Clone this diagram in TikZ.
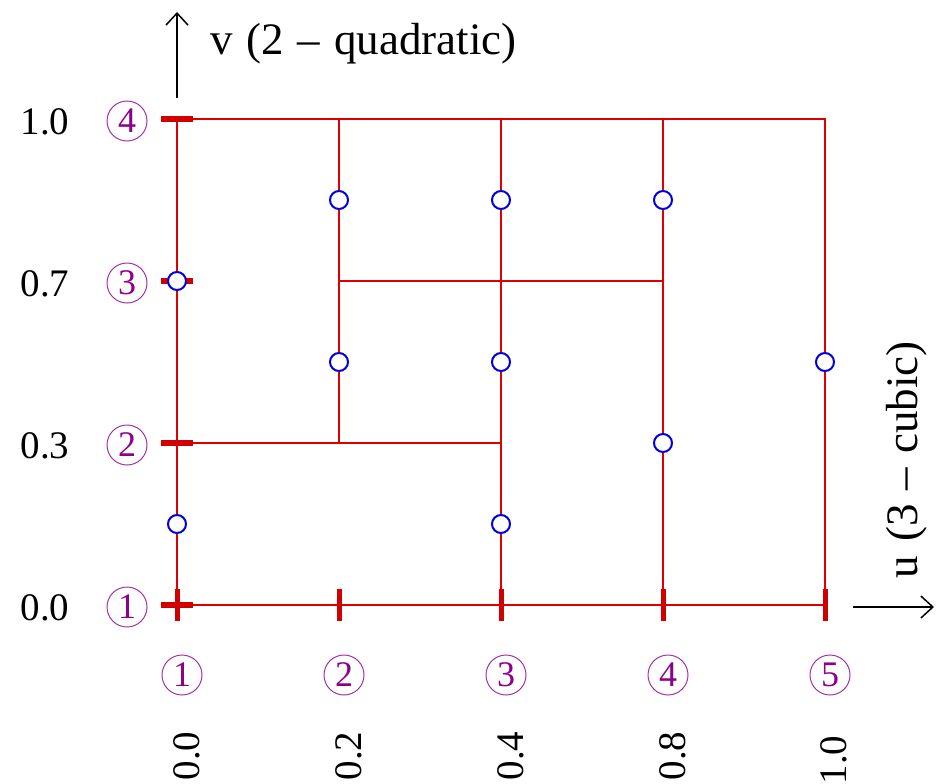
\documentclass[tikz,border=0pt]{standalone}
\usepackage{fontspec}
\setmainfont{Liberation Serif}
\usetikzlibrary{arrows.meta}
\definecolor{gridred}{RGB}{222,0,0}
\definecolor{tickred}{RGB}{208,0,0}
\definecolor{knotpurple}{RGB}{140,0,140}
\definecolor{ptblue}{RGB}{0,0,225}
\tikzset{
  knotnum/.style={circle,draw=knotpurple!80,line width=1pt,text=knotpurple,inner sep=0pt,minimum size=40pt,font=\fontsize{36}{40}\selectfont},
  ptmark/.style={circle,draw=ptblue,fill=white,line width=2pt,inner sep=0pt,minimum size=18pt},
  axlabel/.style={font=\fontsize{39}{44}\selectfont,inner sep=0pt},
  axname/.style={font=\fontsize{45}{50}\selectfont,inner sep=0pt}
}

\begin{document}
\begin{tikzpicture}[x=1pt,y=-1pt,line width=2pt]
\path[use as bounding box] (0,0) rectangle (942,784);
% grid points
\foreach \i/\x in {1/177,2/339,3/501,4/663,5/825}
  \foreach \j/\y in {1/605,2/443,3/281,4/119}
    \coordinate (p\i\j) at (\x,\y);
% grid lines
\draw[gridred] (p11) -- (p51) -- (p54) -- (p14) -- cycle;
\draw[gridred] (p22) -- (p24);
\draw[gridred] (p31) -- (p34);
\draw[gridred] (p41) -- (p44);
\draw[gridred] (p12) -- (p32);
\draw[gridred] (p23) -- (p43);
% knot ticks
\foreach \i in {1,...,5}
  \draw[tickred,line width=5pt] ([yshift=-16pt]p\i1) -- ([yshift=16pt]p\i1);
\foreach \j in {1,...,4}
  \draw[tickred,line width=6pt] ([xshift=-16pt]p1\j) -- ([xshift=16pt]p1\j);
% sample points
\foreach \x/\y in {177/524,177/281,339/200,501/200,663/200,339/362,501/362,825/362,663/443,501/524}
  \node[ptmark] at (\x,\y) {};
% knot numbers
\foreach \j/\y in {1/605,2/443,3/281,4/119}
  \node[knotnum] (v\j) at (127,\y+2) {\j};
\foreach \i/\x in {1/177,2/339,3/501,4/663,5/825}
  \node[knotnum] (u\i) at (\x+5,675) {\i};
% knot values
\node[axlabel] (lv1) at (45,608) {0.0};
\node[axlabel] (lv2) at (45,446) {0.3};
\node[axlabel] (lv3) at (45,284) {0.7};
\node[axlabel] (lv4) at (45,122) {1.0};
\node[axlabel,rotate=90] (lu1) at (187,756) {0.0};
\node[axlabel,rotate=90] (lu2) at (349,756) {0.2};
\node[axlabel,rotate=90] (lu3) at (511,756) {0.4};
\node[axlabel,rotate=90] (lu4) at (673,756) {0.8};
\node[axlabel,rotate=90] (lu5) at (834,760) {1.0};
% axes
\coordinate (vfrom) at (177,98);
\coordinate (vto) at (177,12);
\draw[line width=1.5pt,-{Straight Barb[length=12pt,width=22pt]}] (vfrom) -- (vto);
\node[axname,anchor=west] (vname) at (209,44) {v\hspace{14pt}(2\hspace{14pt}–\hspace{14pt}quadratic)};
\coordinate (ufrom) at (853,607);
\coordinate (uto) at (934,607);
\draw[line width=1.5pt,-{Straight Barb[length=12pt,width=22pt]}] (ufrom) -- (uto);
\node[axname,rotate=90,anchor=west] (uname) at (907,579) {u\hspace{14pt}(3\hspace{14pt}–\hspace{14pt}cubic)};
\end{tikzpicture}
\end{document}
